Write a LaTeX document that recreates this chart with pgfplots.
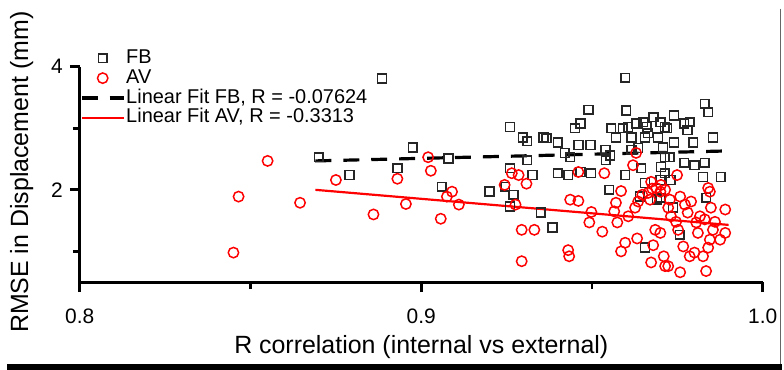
\documentclass[border=0pt]{standalone}
\usepackage{pgfplots}
\pgfplotsset{compat=1.18}
\usepackage{fontspec}
\setmainfont{Liberation Sans}
\begin{document}
\begin{tikzpicture}
\begin{axis}[
  scale only axis, width=342.5pt, height=108pt,
  xmin=0.8, xmax=1.0, ymin=0.5, ymax=4,
  axis x line=bottom, axis y line=left,
  axis line style={-, line width=1.4pt},
  xtick={0.8,0.9,1.0}, xticklabels={0.8,0.9,1.0},
  minor xtick={0.85,0.95},
  ytick={2,4}, yticklabels={2,4}, minor ytick={1,3},
  tick align=outside,
  major tick length=5pt, minor tick length=3.5pt,
  tick style={line width=1.4pt, black},
  ticklabel style={font=\fontsize{10.5}{12}\selectfont},
  xticklabel style={yshift=-5pt},
  xlabel={R correlation (internal vs external)},
  ylabel={RMSE in Displacement (mm)},
  label style={font=\fontsize{12.5}{14}\selectfont},
  xlabel style={at={(rel axis cs:0.5,-0.30)}, anchor=center},
  ylabel style={at={(rel axis cs:-0.085,0.51)}, anchor=center},
  clip=false,
  legend image code/.code={\draw[mark repeat=2,mark phase=2,#1] plot coordinates {(0pt,0pt)(10.5pt,0pt)(21pt,0pt)};},
  legend style={at={(rel axis cs:0.0,1.088)}, anchor=north west, draw=none, fill=none, inner sep=0pt,
    font=\fontsize{10}{11}\selectfont, row sep=0pt,
    nodes={text height=7pt, text depth=2pt, inner sep=0.5pt}},
  legend cell align=left,
]
\path (rel axis cs:-0.1168,-0.407) rectangle (rel axis cs:1.0277,1.310);
\fill[black] (rel axis cs:-0.106,-0.380) rectangle (rel axis cs:1.0277,-0.407);
\draw[black!60, line width=0.5pt] (rel axis cs:1.0255,1.27) -- (rel axis cs:1.0255,-0.38);

\addplot[only marks, mark=square, mark size=2.2pt, draw=black!85, line width=0.8pt] table {
0.870 2.53
0.879 2.24
0.8885 3.81
0.893 2.35
0.8975 2.69
0.908 2.51
0.906 2.05
0.920 1.97
0.9246 2.05
0.926 2.35
0.927 1.92
0.926 1.73
0.926 3.02
0.9297 2.85
0.931 2.79
0.931 2.48
0.9326 2.24
0.9358 2.85
0.9367 2.84
0.940 2.77
0.940 2.27
0.942 2.60
0.943 2.24
0.9436 2.53
0.945 3.00
0.9466 3.08
0.946 2.73
0.949 3.30
0.9495 2.73
0.9497 2.27
0.9466 2.29
0.935 1.63
0.9384 1.39
0.955 2.00
0.9556 3.00
0.957 2.85
0.9597 3.82
0.960 3.29
0.9597 2.24
0.959 3.00
0.9606 3.02
0.9615 2.85
0.963 3.08
0.9635 2.68
0.9615 2.65
0.965 3.10
0.966 3.02
0.968 3.18
0.9664 2.92
0.9655 2.85
0.9644 2.35
0.9655 2.11
0.970 3.10
0.9713 3.02
0.972 3.00
0.9708 2.69
0.9693 2.85
0.9713 2.53
0.9702 2.37
0.9713 2.27
0.970 1.87
0.974 3.21
0.974 2.77
0.973 2.16
0.9737 1.71
0.977 3.08
0.9786 3.10
0.978 2.97
0.9796 2.77
0.977 2.44
0.980 2.40
0.983 3.40
0.984 3.26
0.9854 2.85
0.983 2.44
0.9825 2.21
0.9834 1.87
0.9877 2.21
0.9757 1.27
0.9655 1.06
0.9539 2.65
0.9553 2.56
0.954 2.48
0.970 2.16
0.964 1.89
0.9728 2.53
0.969 1.84
};
\addlegendentry{FB}

\addplot[only marks, mark=o, mark size=2.6pt, draw=red, line width=0.75pt] table {
0.845 0.98
0.8465 1.89
0.855 2.47
0.8645 1.79
0.875 2.16
0.886 1.60
0.893 2.18
0.8955 1.77
0.902 2.53
0.9028 2.31
0.9057 1.53
0.9075 1.89
0.909 1.97
0.911 1.76
0.9244 2.08
0.9265 2.27
0.9285 2.24
0.9308 2.10
0.9276 1.76
0.9294 1.35
0.9331 1.35
0.9294 0.84
0.9436 1.84
0.946 1.82
0.943 1.02
0.9433 0.92
0.9498 1.64
0.9492 1.47
0.953 1.32
0.9536 2.27
0.946 2.29
0.957 1.79
0.9585 1.98
0.9565 1.65
0.9574 1.47
0.9597 1.14
0.9585 1.00
0.9606 1.57
0.9626 1.71
0.9635 1.81
0.9647 1.92
0.9632 1.21
0.9620 2.40
0.9629 2.60
0.9664 1.95
0.967 1.84
0.9676 2.02
0.9688 2.03
0.970 1.97
0.9685 1.35
0.970 1.30
0.9679 1.10
0.9673 0.82
0.971 0.92
0.9714 0.76
0.9723 0.76
0.9714 2.00
0.9728 1.84
0.9723 1.71
0.9731 1.57
0.9749 2.24
0.9758 1.89
0.9746 1.48
0.9758 0.66
0.9752 1.35
0.9772 1.76
0.979 1.81
0.978 1.63
0.9767 1.08
0.9786 0.92
0.980 0.98
0.981 1.30
0.9825 0.92
0.9834 0.68
0.9845 1.97
0.984 2.03
0.9848 1.71
0.983 1.52
0.9854 1.35
0.9845 1.19
0.984 1.06
0.9875 1.19
0.989 1.68
0.989 1.30
0.9816 1.57
0.9805 1.47
0.9673 2.13
0.9702 2.08
0.986 1.48
};
\addlegendentry{AV}

\addplot[black, line width=1.6pt, dash pattern=on 8pt off 6pt] coordinates {(0.869,2.47) (0.988,2.63)};
\addlegendentry{Linear Fit FB, R = -0.07624}
\addplot[red, line width=1.1pt] coordinates {(0.869,2.0) (0.99,1.43)};
\addlegendentry{Linear Fit AV, R = -0.3313}
\end{axis}
\end{tikzpicture}
\end{document}
